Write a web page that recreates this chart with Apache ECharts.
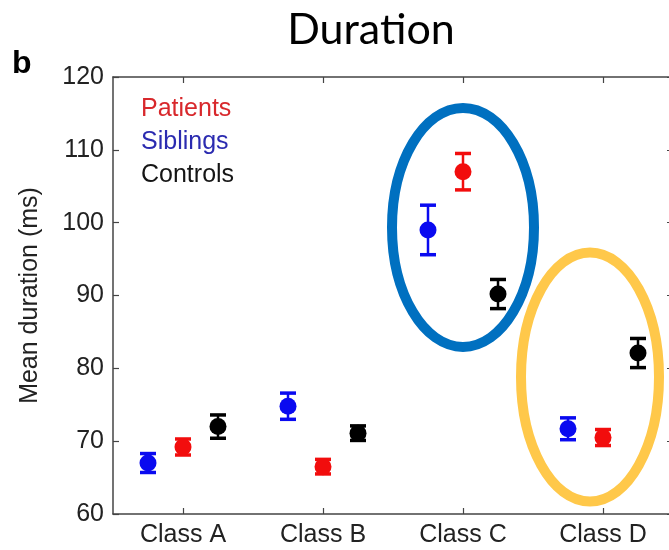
<!DOCTYPE html>
<html>
<head>
<meta charset="utf-8">
<script src="https://cdn.jsdelivr.net/npm/echarts@6/dist/echarts.min.js"></script>
<style>
html,body{margin:0;padding:0;background:#fff;}
#chart{width:669px;height:550px;}
</style>
</head>
<body>
<div id="chart"></div>
<script>
// ---- data ----
const categories = ['Class A', 'Class B', 'Class C', 'Class D'];
const groups = ['Patients', 'Siblings', 'Controls'];
const patients    = [69.2, 66.5, 107.0, 70.5];
const patientsErr = [1.1, 1.0, 2.5, 1.1];
const siblings    = [67.0, 74.8, 99.0, 71.7];
const siblingsErr = [1.3, 1.8, 3.4, 1.5];
const controls    = [72.0, 71.1, 90.2, 82.1];
const controlsErr = [1.6, 1.0, 2.0, 2.0];
const yTicks = [60, 70, 80, 90, 100, 110, 120];

const FONT = '"Liberation Sans", Arial, Helvetica, sans-serif';
const chart = echarts.init(document.getElementById('chart'));

function makeRender(offsetFrac, color) {
  return function (params, api) {
    const i = api.value(0), m = api.value(1), e = api.value(2);
    const c = api.coord([i, m]);
    const bw = api.size([1, 0])[0];
    const x = c[0] + offsetFrac * bw;
    const yTop = api.coord([i, m + e])[1];
    const yBot = api.coord([i, m - e])[1];
    const cap = 8;
    return {
      type: 'group',
      children: [
        { type: 'line', shape: { x1: x, y1: yTop, x2: x, y2: yBot }, style: { stroke: color, lineWidth: 2.5 } },
        { type: 'line', shape: { x1: x - cap, y1: yTop, x2: x + cap, y2: yTop }, style: { stroke: color, lineWidth: 3.5 } },
        { type: 'line', shape: { x1: x - cap, y1: yBot, x2: x + cap, y2: yBot }, style: { stroke: color, lineWidth: 3.5 } },
        { type: 'circle', shape: { cx: x, cy: c[1], r: 8.5 }, style: { fill: color } }
      ]
    };
  };
}
function toData(vals, errs) { return categories.map((c, i) => [i, vals[i], errs[i]]); }

const axisLine = { show: true, lineStyle: { color: '#444', width: 1.5 } };
const tick = { show: true, inside: true, length: 6, lineStyle: { color: '#444', width: 1.2 } };

chart.setOption({
  animation: false,
  grid: { left: 113, top: 77, right: -4, bottom: 36, outerBoundsMode: 'none', containLabel: false },
  legend: {
    orient: 'vertical', left: 131, top: 88, icon: 'none', itemWidth: 0, itemHeight: 0, itemGap: 0,
    selectedMode: false,
    textStyle: { fontFamily: FONT, fontSize: 25, lineHeight: 33 },
    data: [
      { name: 'Patients', textStyle: { color: '#d8282c' } },
      { name: 'Siblings', textStyle: { color: '#2b2bb0' } },
      { name: 'Controls', textStyle: { color: '#151515' } }
    ]
  },
  xAxis: [
    {
      type: 'category', data: categories, position: 'bottom',
      axisLine: axisLine, axisTick: Object.assign({ alignWithLabel: true }, tick),
      axisLabel: { fontFamily: FONT, fontSize: 25, color: '#222', margin: 9 },
      splitLine: { show: false }
    },
    {
      type: 'category', data: categories, position: 'top',
      axisLine: axisLine, axisTick: Object.assign({ alignWithLabel: true }, tick),
      axisLabel: { show: false }, splitLine: { show: false }
    }
  ],
  yAxis: [
    {
      type: 'value', min: yTicks[0], max: yTicks[yTicks.length - 1], interval: 10, position: 'left',
      name: 'Mean duration (ms)', nameLocation: 'middle', nameGap: 70,
      nameTextStyle: { fontFamily: FONT, fontSize: 25, color: '#222' },
      axisLine: axisLine, axisTick: tick,
      axisLabel: { fontFamily: FONT, fontSize: 25, color: '#222', margin: 9 },
      splitLine: { show: false }
    },
    {
      type: 'value', min: yTicks[0], max: yTicks[yTicks.length - 1], interval: 10, position: 'right',
      axisLine: axisLine, axisTick: tick, axisLabel: { show: false }, splitLine: { show: false }
    }
  ],
  series: [
    { name: 'Siblings', type: 'custom', renderItem: makeRender(-0.25, '#0a0af0'), data: toData(siblings, siblingsErr), encode: { x: 0, y: 1 }, z: 3 },
    { name: 'Patients', type: 'custom', renderItem: makeRender(0, '#f20d0d'), data: toData(patients, patientsErr), encode: { x: 0, y: 1 }, z: 3 },
    { name: 'Controls', type: 'custom', renderItem: makeRender(0.25, '#000000'), data: toData(controls, controlsErr), encode: { x: 0, y: 1 }, z: 3 }
  ]
});

// annotations positioned through the chart's scales
const blueC = chart.convertToPixel({ xAxisIndex: 0, yAxisIndex: 0 }, ['Class C', 99.35]);
const goldC = chart.convertToPixel({ xAxisIndex: 0, yAxisIndex: 0 }, ['Class D', 78.8]);
chart.setOption({
  graphic: [
    { type: 'text', x: 371, y: 9, style: { text: 'Duration', font: '43px Lato, "Open Sans", sans-serif', fill: '#000', textAlign: 'center' } },
    { type: 'text', x: 12, y: 48, style: { text: 'b', font: 'bold 32px "Liberation Sans", Arial, sans-serif', fill: '#000' } },
    { type: 'ellipse', z: 10, shape: { cx: blueC[0], cy: blueC[1], rx: 71, ry: 119.5 }, style: { fill: 'none', stroke: '#0070C0', lineWidth: 10 } },
    { type: 'ellipse', z: 10, shape: { cx: goldC[0] - 13, cy: goldC[1], rx: 69, ry: 124.5 }, style: { fill: 'none', stroke: '#FFC84A', lineWidth: 10 } }
  ]
});
</script>
</body>
</html>
